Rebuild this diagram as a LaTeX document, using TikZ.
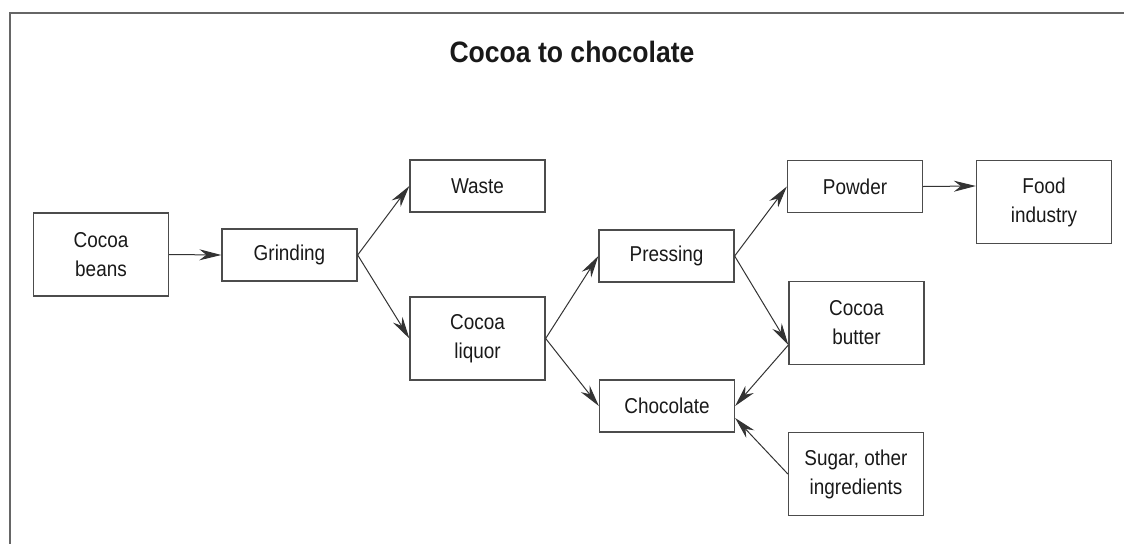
\documentclass[tikz,border=0pt]{standalone}
\usepackage{fontspec}
\setmainfont{Liberation Sans}[FakeStretch=0.88]
\newfontfamily\titlefont{Liberation Sans}[FakeStretch=0.9]
\usetikzlibrary{arrows.meta}
\begin{document}
\begin{tikzpicture}[x=1pt,y=-1pt,
  box/.style={draw=black!70, line width=1.3pt, minimum width=135pt, align=center,
    font=\fontsize{21.5}{29}\selectfont, inner sep=0pt, text=black!90},
  single/.style={box, minimum height=52pt},
  double/.style={box, minimum height=83pt},
  arr/.style={draw=black!80, line width=1pt, -{Stealth[length=22pt,width=11pt,inset=7pt]}}]
\useasboundingbox (0,0) rectangle (1124,544);
\draw[black!60, line width=1.5pt] (1124,13) -- (10,13) -- (10,544);
\node[font=\titlefont\fontsize{29.5}{32}\selectfont\bfseries, text=black!90] (title) at (572,52) {Cocoa to chocolate};
\node[double] (beans) at (101,254.5) {Cocoa\\beans};
\node[single] (grind) at (289.5,255) {Grinding};
\node[single] (waste) at (477.5,186) {Waste};
\node[double] (liquor) at (477.5,338.5) {Cocoa\\liquor};
\node[single] (press) at (666.5,256) {Pressing};
\node[single] (choc) at (667,406) {Chocolate};
\node[single] (powder) at (855,186.5) {Powder};
\node[double] (food) at (1044,202) {Food\\industry};
\node[double] (butter) at (856.5,323) {Cocoa\\butter};
\node[double] (sugar) at (856,474) {Sugar, other\\ingredients};
\draw[arr] (beans.east) -- (grind.west);
\draw[arr] (grind.east) -- (waste.west);
\draw[arr] (grind.east) -- (liquor.west);
\draw[arr] (liquor.east) -- (press.west);
\draw[arr] (liquor.east) -- (choc.west);
\draw[arr] (press.east) -- (powder.west);
\draw[arr] (press.east) -- ([yshift=-22pt]butter.west);
\draw[arr] ([yshift=-22pt]butter.west) -- (choc.east);
\draw[arr] (sugar.west) -- ([yshift=-12pt]choc.east);
\draw[arr] (powder.east) -- ([yshift=16pt]food.west);
\end{tikzpicture}
\end{document}
